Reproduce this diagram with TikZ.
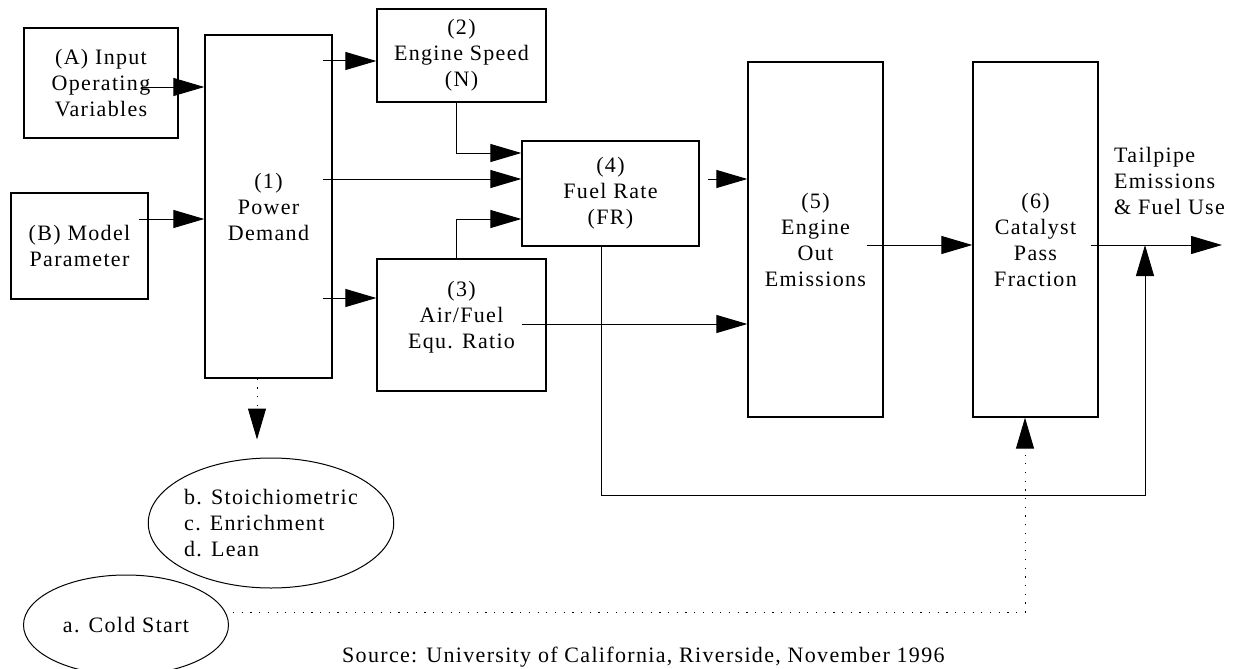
\documentclass[tikz,border=0pt]{standalone}
\usepackage{fontspec}
\setmainfont{Liberation Serif}[LetterSpace=6]
\usepackage{tikz}
\usetikzlibrary{arrows.meta,calc,shapes.geometric}
\tikzset{
  blk/.style={draw,line width=1.3pt,align=center,inner sep=2pt},
  oval/.style={draw,ellipse,line width=1pt,inner sep=0pt},
  arr/.style={line width=1pt,-{Triangle[length=31pt,width=18pt]}},
  dots/.style={dash pattern=on 1.2pt off 7.5pt}
}

\begin{document}
\begin{tikzpicture}[x=1pt,y=-1pt,font=\fontsize{22}{26}\selectfont]
        \useasboundingbox (0,0) rectangle (1237,669);
        \node[blk,minimum width=154,minimum height=110] (A) at (101,83) {(A) Input\\Operating\\Variables};
        \node[blk,minimum width=137,minimum height=106] (B) at (79.5,246) {(B) Model\\Parameter};
        \node[blk,minimum width=127,minimum height=343] (P) at (268.5,206.5) {(1)\\Power\\Demand};
        \node[blk,minimum width=169,minimum height=93] (S) at (461.5,55.5) {(2)\\Engine Speed\\(N)};
        \node[blk,minimum width=169,minimum height=132] (R) at (461.5,325) {(3)\\Air/Fuel\\Equ. Ratio\\[-6pt]};
        \node[blk,minimum width=177,minimum height=105] (F) at (610.5,193.5) {(4)\\Fuel Rate\\(FR)};
        \node[blk,minimum width=135,minimum height=355] (E) at (815.5,239.5) {(5)\\Engine\\Out\\Emissions};
        \node[blk,minimum width=125,minimum height=355] (C) at (1035.5,239.5) {(6)\\Catalyst\\Pass\\Fraction};
        \node[oval,align=left,minimum width=240,minimum height=130] (St) at (271,523) {b. Stoichiometric\\c. Enrichment\\d. Lean};
        \node[oval,minimum width=205,minimum height=100] (Cs) at (126,625) {a. Cold Start};
        \node[anchor=west,align=left,inner sep=0] (T) at (1114,181) {Tailpipe\\Emissions\\\& Fuel Use};
        \node[anchor=base west,inner sep=0] (src) at (342,662) {Source: University of California, Riverside, November 1996};
        \coordinate (out) at (1222,245);
        \coordinate (join) at (1145,245);
        \draw[arr] ($(A.east)+(-38,4)$) coordinate (a1) -- (a1 -| P.west);
        \draw[arr] ($(B.east)+(-10,-27)$) coordinate (b1) -- (b1 -| P.west);
        \draw[arr] ($(P.east|-S.west)+(-10,5.5)$) coordinate (p1) -- (p1 -| S.west);
        \draw[arr] ($(P.east|-F.west)+(-10,-14.5)$) coordinate (p2) -- (p2 -| F.west);
        \draw[arr] ($(P.east|-R.west)+(-10,-27)$) coordinate (p3) -- (p3 -| R.west);
        \draw[arr] ($(S.south)+(-5.5,0)$) |- ($(F.west)+(0,-40.5)$);
        \draw[arr] ($(R.north)+(-5.5,0)$) |- ($(F.west)+(0,25.5)$);
        \draw[arr] ($(F.east)+(8,-14.5)$) coordinate (f1) -- (f1 -| E.west);
        \draw[arr] ($(R.east)+(-25,-1)$) coordinate (r1) -- (r1 -| E.west);
        \draw[arr] ($(E.east)+(-17,5.5)$) coordinate (e1) -- (e1 -| C.west);
        \draw[arr] ($(C.east)+(-8,5.5)$) -- (out);
        \draw[arr] ($(F.south)+(-9.5,0)$) -- ++(0,249) -| (join);
        \draw[arr,dots] ($(P.south)+(-11.5,0)$) coordinate (d1) -- ($(d1 |- St.north)+(0,-18)$);
        \draw[arr,dots] ($(Cs.east)+(4,-13)$) -| ($(C.south)+(-10.5,0)$);
      \end{tikzpicture}
\end{document}
